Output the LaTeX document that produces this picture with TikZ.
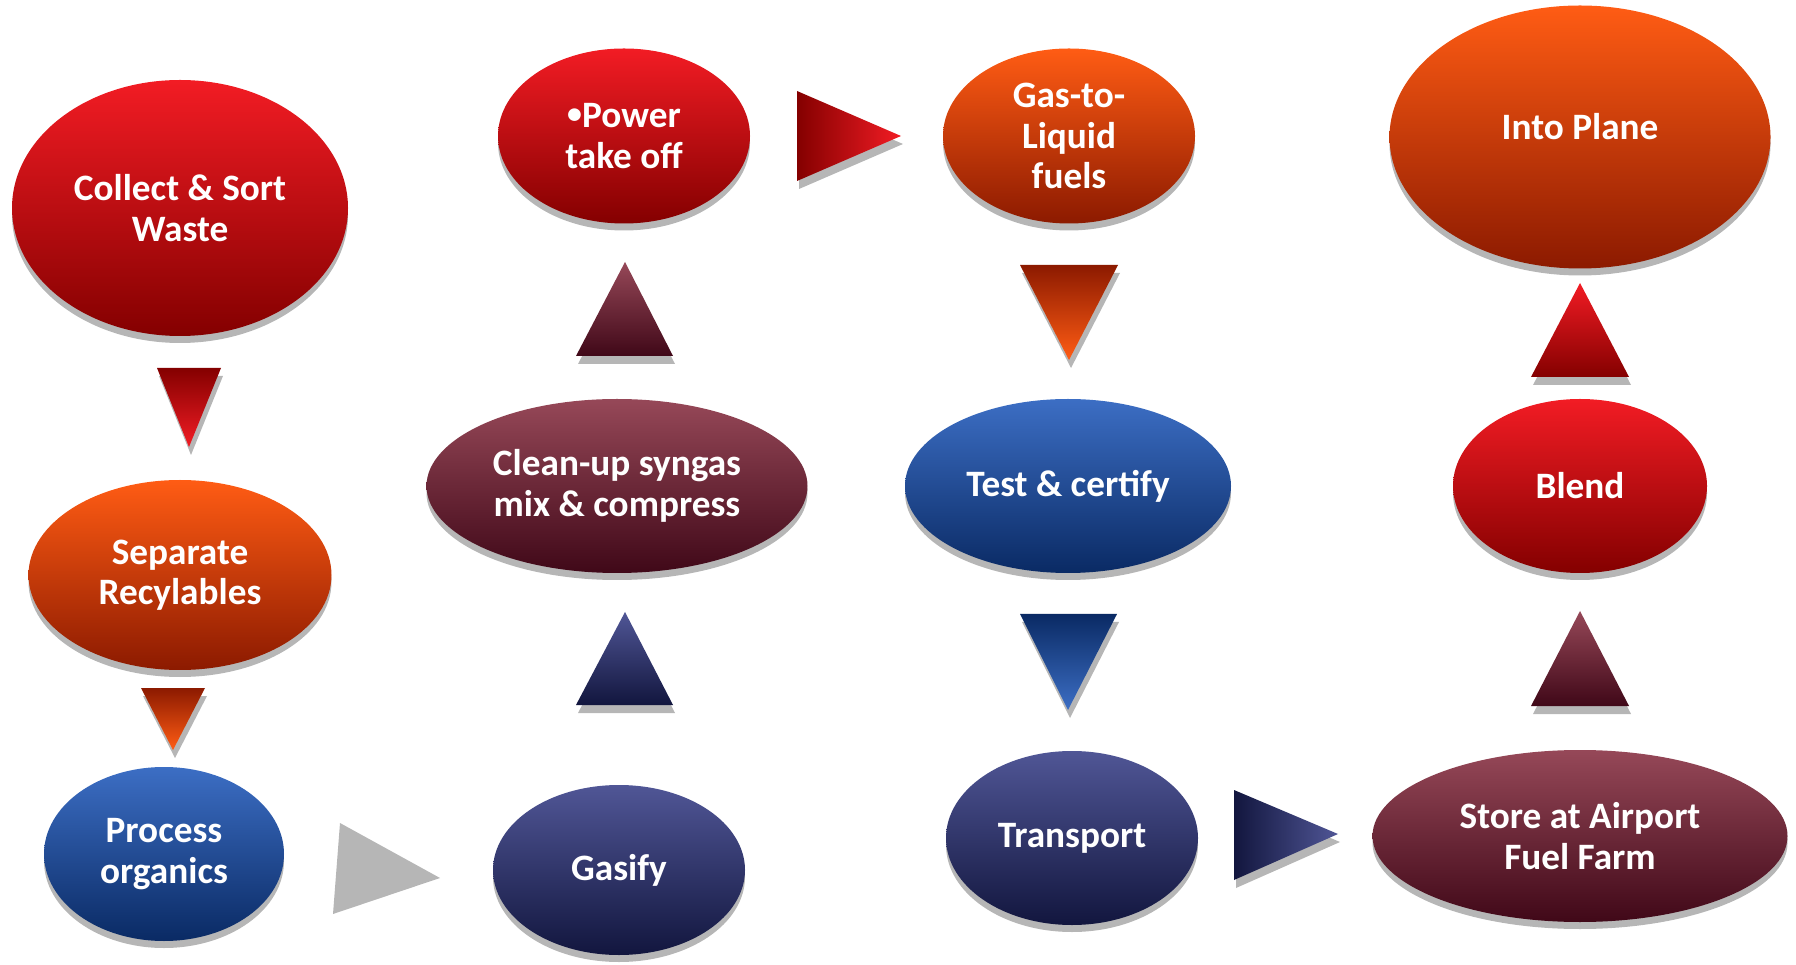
\documentclass[tikz,border=0pt]{standalone}
\usepackage{fontspec}
\setmainfont{Carlito}
\usetikzlibrary{shapes.geometric,shadows}

\definecolor{redtop}{RGB}{242,28,36}
\definecolor{redbot}{RGB}{132,0,0}
\definecolor{orangetop}{RGB}{255,92,20}
\definecolor{orangebot}{RGB}{140,26,0}
\definecolor{bluetop}{RGB}{60,110,196}
\definecolor{bluebot}{RGB}{10,42,100}
\definecolor{navytop}{RGB}{80,86,150}
\definecolor{navybot}{RGB}{18,22,62}
\definecolor{maroontop}{RGB}{150,72,88}
\definecolor{maroonbot}{RGB}{64,8,24}
\definecolor{shadowgray}{RGB}{182,182,182}

% shaded triangle with its grey shadow
\newcommand{\flowtri}[4]{%
  \fill[shadowgray,shift={(0.02,-0.08)}] #2 -- #3 -- #4 -- cycle;
  \shade[#1] #2 -- #3 -- #4 -- cycle;}

\begin{document}
\begin{tikzpicture}[
    blob/.style={ellipse, inner sep=0pt, text=white, align=center,
      font=\bfseries\fontsize{10.6}{11.5}\selectfont,
      drop shadow={shadow xshift=0pt, shadow yshift=-0.07cm,
        fill=shadowgray, opacity=1}},
    redblob/.style={blob, top color=redtop, bottom color=redbot},
    orangeblob/.style={blob, top color=orangetop, bottom color=orangebot},
    blueblob/.style={blob, top color=bluetop, bottom color=bluebot},
    navyblob/.style={blob, top color=navytop, bottom color=navybot},
    maroonblob/.style={blob, top color=maroontop, bottom color=maroonbot}]
  \useasboundingbox (0,0) rectangle (17.96,9.64);

  % first column
  \node[redblob, minimum width=3.36cm, minimum height=2.56cm] (collect)
    at (1.80,7.56) {Collect \& Sort\\Waste};
  \node[orangeblob, minimum width=3.03cm, minimum height=1.90cm] (separate)
    at (1.80,3.89) {Separate\\Recylables};
  \node[blueblob, minimum width=2.40cm, minimum height=1.74cm] (process)
    at (1.64,1.10) {Process\\organics};

  % second column
  \node[navyblob, minimum width=2.52cm, minimum height=1.70cm] (gasify)
    at (6.19,0.94) {Gasify};
  \node[maroonblob, minimum width=3.81cm, minimum height=1.74cm] (cleanup)
    at (6.17,4.78) {Clean-up syngas\\mix \& compress};
  \node[redblob, minimum width=2.52cm, minimum height=1.75cm] (power)
    at (6.24,8.28)
    {\raisebox{0.25ex}{\fontsize{8.5}{8}\selectfont\textbullet}Power\\take off};

  % third column
  \node[orangeblob, minimum width=2.52cm, minimum height=1.75cm] (gtl)
    at (10.69,8.28) {Gas-to-\\Liquid\\fuels};
  \node[blueblob, minimum width=3.26cm, minimum height=1.74cm] (certify)
    at (10.68,4.78) {Test \& certify};
  \node[navyblob, minimum width=2.52cm, minimum height=1.74cm] (transport)
    at (10.72,1.26) {Transport};

  % fourth column
  \node[maroonblob, minimum width=4.15cm, minimum height=1.72cm] (store)
    at (15.80,1.28) {Store at Airport\\Fuel Farm};
  \node[redblob, minimum width=2.54cm, minimum height=1.74cm] (blend)
    at (15.80,4.78) {Blend};
  \node[orangeblob, minimum width=3.81cm, minimum height=2.63cm] (plane)
    at (15.80,8.27) {\raisebox{0.22cm}{Into Plane}};

  % triangles between the steps
  \flowtri{top color=redbot, bottom color=redtop}{(1.57,5.96)}{(2.21,5.96)}{(1.89,5.17)}
  \flowtri{top color=orangebot, bottom color=orangetop}{(1.41,2.76)}{(2.05,2.76)}{(1.73,2.14)}
  \fill[shadowgray] (3.40,1.41) -- (3.33,0.50) -- (4.40,0.86) -- cycle;
  \flowtri{top color=navytop, bottom color=navybot}{(6.25,3.52)}{(5.76,2.59)}{(6.73,2.59)}
  \flowtri{top color=maroontop, bottom color=maroonbot}{(6.25,7.02)}{(5.76,6.08)}{(6.73,6.08)}
  \flowtri{left color=redbot, right color=redtop}{(7.97,8.73)}{(7.97,7.83)}{(9.01,8.28)}
  \flowtri{top color=orangebot, bottom color=orangetop}{(10.20,6.99)}{(11.18,6.99)}{(10.69,6.04)}
  \flowtri{top color=bluebot, bottom color=bluetop}{(10.20,3.50)}{(11.17,3.50)}{(10.68,2.54)}
  \flowtri{left color=navybot, right color=navytop}{(12.34,1.74)}{(12.34,0.84)}{(13.38,1.30)}
  \flowtri{top color=maroontop, bottom color=maroonbot}{(15.80,3.53)}{(15.31,2.58)}{(16.29,2.58)}
  \flowtri{top color=redtop, bottom color=redbot}{(15.80,6.81)}{(15.31,5.87)}{(16.29,5.87)}
\end{tikzpicture}
\end{document}
